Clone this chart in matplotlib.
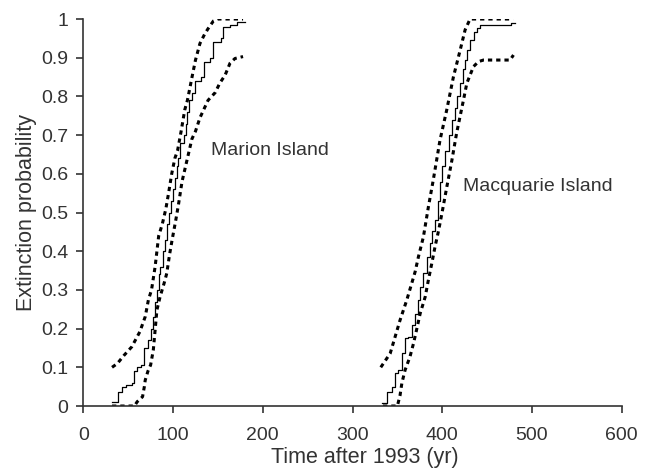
import matplotlib
matplotlib.use("Agg")
import matplotlib.pyplot as plt
from matplotlib.ticker import FormatStrFormatter, MultipleLocator

plt.rcParams['font.family'] = ['Liberation Sans', 'DejaVu Sans']

# Marion Island: median (step) and confidence bounds
marion_x = [32, 39, 43, 48, 54, 57, 60, 64, 68, 72, 75, 78, 80, 82, 84, 86, 89, 91,
            93, 96, 98, 100, 102, 104, 106, 108, 112, 114, 116, 118, 121, 124, 131,
            134, 141, 144, 153, 156, 163, 171, 180]
marion_y = [0.01, 0.037, 0.048, 0.055, 0.06, 0.09, 0.10, 0.105, 0.15, 0.17, 0.20, 0.23,
            0.27, 0.30, 0.34, 0.36, 0.40, 0.43, 0.47, 0.50, 0.53, 0.56, 0.59, 0.62, 0.64,
            0.68, 0.70, 0.73, 0.76, 0.79, 0.81, 0.84, 0.85, 0.89, 0.90, 0.94, 0.95, 0.98,
            0.985, 0.993, 0.993]
marion_hi_x = [32, 38, 45, 54, 63, 69, 72.5, 76, 78, 80, 82, 84, 88, 92, 95, 98.5, 102,
               105, 109, 113, 116, 119, 122, 125, 130, 135, 139, 145, 150, 178]
marion_hi_y = [0.10, 0.11, 0.13, 0.153, 0.192, 0.231, 0.274, 0.30, 0.33, 0.36, 0.40, 0.44,
               0.47, 0.51, 0.55, 0.60, 0.64, 0.66, 0.71, 0.765, 0.79, 0.825, 0.86, 0.894,
               0.937, 0.96, 0.975, 0.995, 1.0, 1.0]
marion_lo_x = [32, 45, 57, 60, 66, 68, 69, 72, 75, 78, 80, 82, 85.5, 90, 93, 96, 99, 103,
               106, 110, 114, 118, 121, 125, 130, 135, 139, 147, 152, 158, 163.5, 169, 178]
marion_lo_y = [0.0, 0.0, 0.0, 0.011, 0.024, 0.05, 0.067, 0.09, 0.106, 0.145, 0.196, 0.248,
               0.282, 0.317, 0.343, 0.39, 0.43, 0.48, 0.52, 0.58, 0.62, 0.66, 0.69, 0.71,
               0.745, 0.77, 0.79, 0.81, 0.834, 0.855, 0.886, 0.898, 0.903]

# Macquarie Island
macq_x = [333, 338, 344, 347, 351, 355, 359, 362, 366, 370, 373, 375, 379, 383, 386, 389,
          392, 395, 397.5, 400, 403, 407, 411, 414, 417, 420, 423, 425.5, 428, 431, 435,
          439, 442, 477, 481]
macq_y = [0.007, 0.037, 0.05, 0.085, 0.093, 0.136, 0.175, 0.179, 0.209, 0.239, 0.274,
          0.308, 0.343, 0.386, 0.42, 0.452, 0.48, 0.53, 0.58, 0.62, 0.66, 0.70, 0.74, 0.77,
          0.80, 0.834, 0.87, 0.894, 0.92, 0.946, 0.967, 0.976, 0.984, 0.99, 0.99]
macq_hi_x = [331.5, 342, 347.5, 353, 360.5, 366, 369.8, 373.5, 379, 384.6, 390, 397.5,
             405, 412.5, 420, 425.5, 431, 479]
macq_hi_y = [0.10, 0.136, 0.179, 0.222, 0.274, 0.317, 0.347, 0.386, 0.437, 0.515, 0.584,
             0.687, 0.765, 0.851, 0.92, 0.972, 1.0, 1.0]
macq_lo_x = [334, 342, 350, 353, 355, 358.6, 364, 368, 371.7, 375.4, 381, 384.6, 388.4,
             392, 395.8, 399.5, 405, 410.6, 416, 423.6, 427.4, 434.8, 440.4, 446, 475.6,
             479.4]
macq_lo_y = [0, 0, 0, 0.028, 0.059, 0.093, 0.127, 0.162, 0.2, 0.239, 0.282, 0.326, 0.369,
             0.412, 0.452, 0.496, 0.565, 0.633, 0.705, 0.79, 0.834, 0.877, 0.89, 0.894,
             0.894, 0.907]

grey = '#333333'
dots = (0, (1.4, 1.3))

fig = plt.figure(figsize=(6.48, 4.72), dpi=100)
ax = fig.add_axes([0.1286, 0.1398, 0.8308, 0.8199])

ax.step(marion_x, marion_y, where='post', color='black', lw=0.9)
ax.plot(marion_hi_x, marion_hi_y, color='black', lw=2.2, ls=dots)
ax.plot(marion_lo_x, marion_lo_y, color='black', lw=2.2, ls=dots)

ax.step(macq_x, macq_y, where='post', color='black', lw=0.9)
ax.plot(macq_hi_x, macq_hi_y, color='black', lw=2.2, ls=dots)
ax.plot(macq_lo_x, macq_lo_y, color='black', lw=2.2, ls=dots)

ax.text(142, 0.66, 'Marion Island', fontsize=14, color=grey, va='center')
ax.text(423, 0.566, 'Macquarie Island', fontsize=14, color=grey, va='center')

ax.set_xlim(0, 600)
ax.set_ylim(0, 1)
ax.xaxis.set_major_locator(MultipleLocator(100))
ax.yaxis.set_major_locator(MultipleLocator(0.1))
ax.yaxis.set_major_formatter(FormatStrFormatter('%g'))

for side in ['top', 'right']:
    ax.spines[side].set_visible(False)
for side in ['left', 'bottom']:
    ax.spines[side].set_color(grey)
    ax.spines[side].set_linewidth(1.2)

ax.tick_params(colors=grey, labelsize=14, length=5, width=1.2)
ax.tick_params(axis='x', pad=10)
ax.tick_params(axis='y', pad=6)
ax.set_xlabel('Time after 1993 (yr)', fontsize=15.5, color=grey, labelpad=2)
ax.set_ylabel('Extinction probability', fontsize=15.5, color=grey, labelpad=3)
ax.xaxis.set_label_coords(0.523, -0.105)

fig.savefig('out.png', dpi=100)
